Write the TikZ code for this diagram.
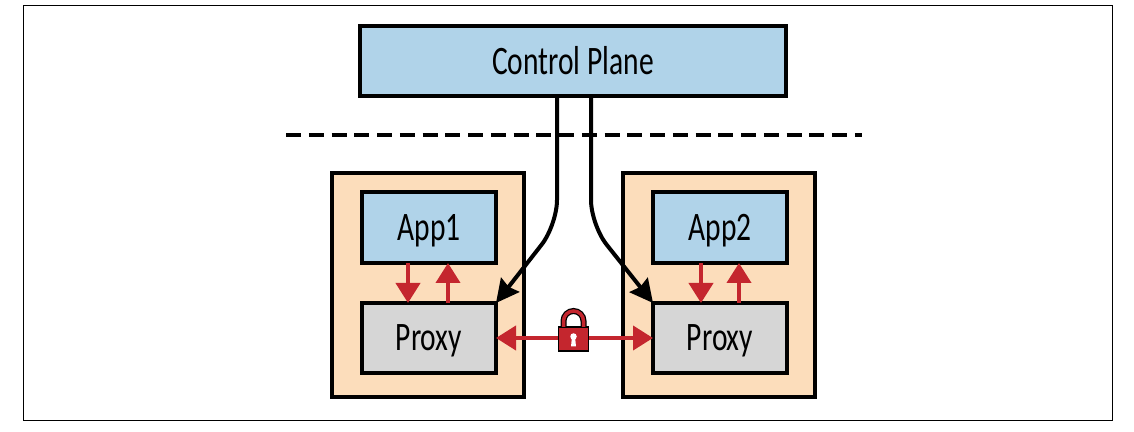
\documentclass[tikz,border=0pt]{standalone}
\usepackage{fontspec}
\setmainfont[FakeStretch=0.73]{Carlito}
\usetikzlibrary{positioning,arrows.meta,calc}
\definecolor{paneblue}{HTML}{B0D3E9}
\definecolor{podtan}{HTML}{FCDDBB}
\definecolor{proxygray}{HTML}{D6D6D6}
\definecolor{lockred}{HTML}{C4262E}

\begin{document}
\begin{tikzpicture}
% Canvas and frame
   \useasboundingbox (0,0) rectangle (22.68,-8.64);
   \draw [line width=0.026cm] (0.47,-0.11) rectangle (22.25,-8.41);
   \begin{scope}[ node distance=2cm,on grid,
                   box/.style={rectangle,draw,line width=0.08cm,outer sep=0pt,text=black,text height=0.56cm,text depth=0.04cm,font=\fontsize{23}{26}\selectfont},
                   ctrlbox/.style={box,fill=paneblue,minimum width=8.51cm,minimum height=1.4cm},
                   pod/.style={box,fill=podtan,minimum width=3.84cm,minimum height=4.48cm},
                   app/.style={box,fill=paneblue,minimum width=2.68cm,minimum height=1.42cm},
                   proxy/.style={box,fill=proxygray,minimum width=2.68cm,minimum height=1.4cm},
                   feed/.style={line width=0.08cm,-{Stealth[length=0.46cm,width=0.46cm,inset=0.05cm]},rounded corners=0.5cm},
                   redline/.style={draw=lockred,line width=0.08cm,-{Triangle[length=0.4cm,width=0.48cm]}},
                   lockbody/.style={rectangle,draw,fill=lockred,line width=0.03cm,outer sep=0pt,minimum width=0.6cm,minimum height=0.48cm} ]
     \node [ctrlbox] (ctrl) at (11.46,-1.23) {Control Plane};
     \node [pod]   (pod1)   [below left=4.47cm and 2.9cm of ctrl] {};
     \node [pod]   (pod2)   [right=5.81cm of pod1] {};
     \node [app]   (app1)   [above=1.15cm of pod1,xshift=0.02cm] {App1};
     \node [proxy] (proxy1) [below=2.21cm of app1] {Proxy};
     \node [app]   (app2)   [above=1.15cm of pod2,xshift=0.03cm] {App2};
     \node [proxy] (proxy2) [below=2.21cm of app2] {Proxy};
     % dashed divider
     \coordinate (dashl) at (5.72,-2.71);
     \coordinate (dashr) at (17.24,-2.71);
     \draw [line width=0.08cm,dash pattern=on 0.3cm off 0.155cm] (dashl) -- (dashr);
     % control plane to proxies
     \coordinate (turn1) at (11.14,-4.5);
     \coordinate (turn2) at (11.82,-4.5);
     \draw [feed] (ctrl.south -| turn1) -- (turn1) -- (proxy1.north east);
     \draw [feed] (ctrl.south -| turn2) -- (turn2) -- (proxy2.north west);
     % app and proxy traffic
     \draw [redline] ([xshift=-0.42cm]app1.south) -- ([xshift=-0.42cm]proxy1.north);
     \draw [redline] ([xshift=0.38cm]proxy1.north) -- ([xshift=0.38cm]app1.south);
     \draw [redline] ([xshift=-0.38cm]app2.south) -- ([xshift=-0.38cm]proxy2.north);
     \draw [redline] ([xshift=0.38cm]proxy2.north) -- ([xshift=0.38cm]app2.south);
     \draw [redline,{Triangle[length=0.4cm,width=0.48cm]}-{Triangle[length=0.4cm,width=0.48cm]}] (proxy1) -- (proxy2);
     % lock
     \node [lockbody] (lock) at ($(proxy1)!0.5!(proxy2)+(-0.02,-0.02)$) {};
     \draw [line width=0.12cm] ([xshift=-0.2cm]lock.north) -- ++(0,0.12) arc (180:0:0.2) -- ++(0,-0.12);
     \draw [draw=lockred,line width=0.07cm] ([xshift=-0.2cm]lock.north) -- ++(0,0.12) arc (180:0:0.2) -- ++(0,-0.12);
     \fill [white] ([yshift=0.05cm]lock.center) circle (0.065);
     \fill [white] ([yshift=0.05cm,xshift=-0.03cm]lock.center) -- ++(-0.02,-0.2) -- ++(0.1,0) -- ++(-0.02,0.2) -- cycle;
   \end{scope}
\end{tikzpicture}
\end{document}
